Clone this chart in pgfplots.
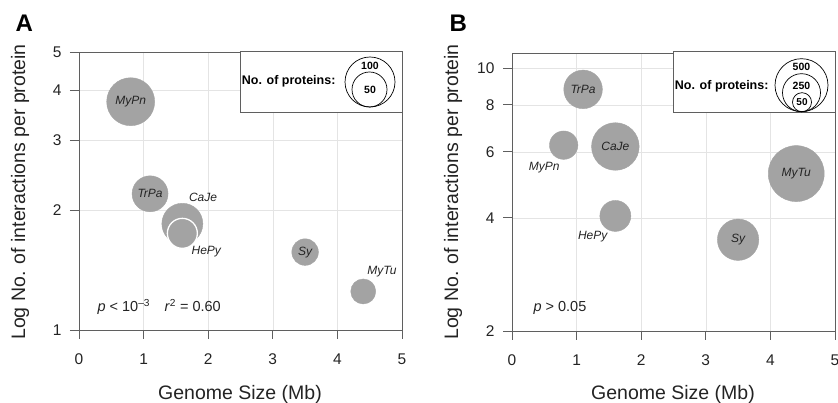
\documentclass[border=0pt]{standalone}
\usepackage{fontspec}
\setmainfont{Liberation Sans}
\usepackage{pgfplots}
\pgfplotsset{compat=1.18}
\usepackage{pgfplotstable}

\definecolor{bubble}{RGB}{163,163,163}
\definecolor{frame}{RGB}{95,95,95}
\definecolor{gridc}{RGB}{228,228,228}
\definecolor{txt}{RGB}{35,35,35}

% genome size (Mb), interactions per protein, bubble radius (pt)
\pgfplotstableread{
x   y    r
0.8 3.75 24
1.1 2.20 18
1.6 1.85 20.5
3.5 1.57 13.3
4.4 1.25 12.5
}\dataA
\pgfplotstableread{
x   y    r
1.6 1.75 15
}\hepyA
\pgfplotstableread{
x   y    r
0.8 6.25 14.2
1.1 8.8  19.3
1.6 6.2  23.8
1.6 4.05 15.5
3.5 3.5  20.7
4.4 5.25 28
}\dataB

\pgfplotsset{
  bubblepanel/.style={
    scale only axis, width=323pt, height=278pt,
    anchor=south west,
    xmin=0, xmax=5, xtick={0,1,2,3,4,5},
    grid=major, grid style={gridc, line width=0.6pt},
    axis line style={frame, line width=0.9pt},
    tick style={frame, line width=0.9pt},
    tick align=outside, major tick length=9pt,
    xtick pos=bottom, ytick pos=left,
    ticklabel style={font=\fontsize{15.5}{17}\selectfont, text=txt},
    /pgf/number format/assume math mode=true,
    xticklabel style={yshift=-11pt},
    yticklabel style={xshift=-5pt},
  },
  bubbles/.style={
    scatter, only marks, mark=*, color=bubble,
    visualization depends on={\thisrow{r} \as \rad},
    scatter/@pre marker code/.code={\scope[mark size=\rad]},
    scatter/@post marker code/.code={\endscope},
  },
}
\tikzset{lab/.style={font=\fontsize{12}{14}\selectfont\itshape, text=txt}}

\begin{document}
\begin{tikzpicture}
\useasboundingbox (0,0) rectangle (838pt,403pt);

% ---------- panel A ----------
\begin{axis}[bubblepanel, ymode=log, at={(79pt,73pt)},
  ymin=1, ymax=5, ytick={1,2,3,4,5}, yticklabels={1,2,3,4,5}]
  \addplot[bubbles, mark options={draw=bubble, fill=bubble}] table[x=x, y=y] {\dataA};
  \addplot[bubbles, mark options={draw=white, fill=bubble, line width=1.3pt}] table[x=x, y=y] {\hepyA};
  \coordinate (A1) at (axis cs:0.8,3.75);
  \coordinate (A2) at (axis cs:1.1,2.20);
  \coordinate (A3) at (axis cs:1.92,2.16);
  \coordinate (A4) at (axis cs:1.97,1.57);
  \coordinate (A5) at (axis cs:3.5,1.57);
  \coordinate (A6) at (axis cs:4.69,1.40);
\end{axis}
\node[lab] at (A1) {MyPn};
\node[lab] at (A2) {TrPa};
\node[lab] at (A3) {CaJe};
\node[lab] at (A4) {HePy};
\node[lab] at (A5) {Sy};
\node[lab] at (A6) {MyTu};

% ---------- panel B ----------
\begin{axis}[bubblepanel, ymode=log, at={(512pt,72pt)},
  ymin=2, ymax=11, ytick={2,4,6,8,10}, yticklabels={2,4,6,8,10}]
  \addplot[bubbles, mark options={draw=bubble, fill=bubble}] table[x=x, y=y] {\dataB};
  \coordinate (B1) at (axis cs:1.1,8.8);
  \coordinate (B2) at (axis cs:0.5,5.44);
  \coordinate (B3) at (axis cs:1.6,6.2);
  \coordinate (B4) at (axis cs:1.25,3.57);
  \coordinate (B5) at (axis cs:3.5,3.5);
  \coordinate (B6) at (axis cs:4.4,5.25);
\end{axis}
\node[lab] at (B1) {TrPa};
\node[lab] at (B2) {MyPn};
\node[lab] at (B3) {CaJe};
\node[lab] at (B4) {HePy};
\node[lab] at (B5) {Sy};
\node[lab] at (B6) {MyTu};

% panel letters
\node[anchor=base west, font=\fontsize{24}{26}\selectfont\bfseries] at (12pt,371pt) {A};
\node[anchor=base west, font=\fontsize{24}{26}\selectfont\bfseries] at (446pt,371pt) {B};

% axis titles
\node[anchor=base, font=\fontsize{19.5}{22}\selectfont, text=txt] at (240pt,3pt) {Genome Size (Mb)};
\node[anchor=base, font=\fontsize{19.5}{22}\selectfont, text=txt] at (673pt,3pt) {Genome Size (Mb)};
\node[rotate=90, font=\fontsize{19.5}{22}\selectfont, text=txt] at (20pt,211pt) {Log No. of interactions per protein};
\node[rotate=90, font=\fontsize{19.5}{22}\selectfont, text=txt] at (453pt,211pt) {Log No. of interactions per protein};

% statistics
\node[anchor=west, font=\fontsize{14.5}{16}\selectfont, text=txt] at (94pt,96pt)
  {\textit{p} < 10\textsuperscript{–3}\quad \textit{r}\textsuperscript{2} = 0.60};
\node[anchor=west, font=\fontsize{14.5}{16}\selectfont, text=txt] at (530pt,95pt)
  {\textit{p} > 0.05};

% size keys
\draw[frame, line width=1pt, fill=white] (240pt,290pt) rectangle (402pt,351pt);
\node[anchor=east, font=\fontsize{12.5}{14}\selectfont\bfseries] at (339pt,322pt) {No. of proteins:};
\draw[black, line width=0.7pt] (370pt,321pt) circle (25pt);
\draw[black, line width=0.7pt] (369.5pt,313.5pt) circle (17.5pt);
\node[font=\fontsize{10.5}{12}\selectfont\bfseries] at (370pt,337pt) {100};
\node[font=\fontsize{10.5}{12}\selectfont\bfseries] at (370pt,313pt) {50};

\draw[frame, line width=1pt, fill=white] (673pt,290pt) rectangle (835pt,351pt);
\node[anchor=east, font=\fontsize{12.5}{14}\selectfont\bfseries] at (772pt,317pt) {No. of proteins:};
\draw[black, line width=0.7pt] (801.5pt,317.8pt) circle (26.5pt);
\draw[black, line width=0.7pt] (801.5pt,310.3pt) circle (19pt);
\draw[black, line width=0.7pt] (802pt,300.8pt) circle (9.5pt);
\node[font=\fontsize{10.5}{12}\selectfont\bfseries] at (801.5pt,336.3pt) {500};
\node[font=\fontsize{10.5}{12}\selectfont\bfseries] at (801.5pt,317pt) {250};
\node[font=\fontsize{10}{12}\selectfont\bfseries] at (802pt,300.8pt) {50};
\end{tikzpicture}
\end{document}
